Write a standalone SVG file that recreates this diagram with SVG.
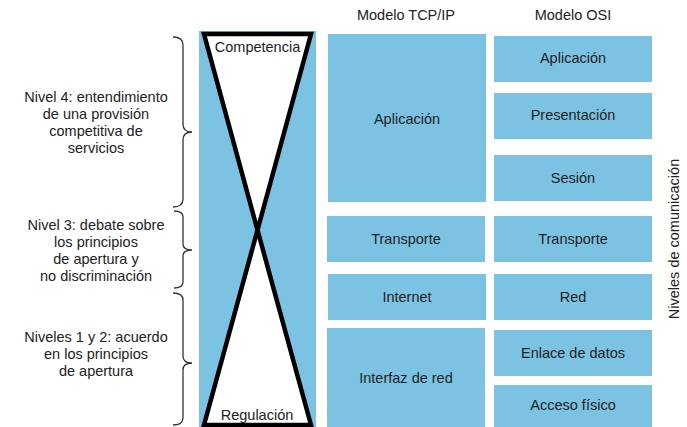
<svg xmlns="http://www.w3.org/2000/svg" width="687" height="427" viewBox="0 0 687 427">
<style>
text{font-family:"Liberation Sans",Arial,sans-serif;font-size:14.5px;fill:#222;text-anchor:middle}
.box{fill:#7cc2e2}
.brace{fill:none;stroke:#333;stroke-width:1.3}
.hg{fill:#fff;stroke:#000;stroke-width:4.5;stroke-linejoin:miter}
</style>
<rect width="687" height="427" fill="#fff"/>
<g id="headers">
<text x="406" y="20">Modelo TCP/IP</text>
<text x="573" y="20">Modelo OSI</text>
</g>
<g id="hourglass">
<rect class="box" x="199" y="31" width="117" height="396"/>
<polygon class="hg" points="204,34 311,34 257.5,230"/>
<polygon class="hg" points="257.5,230 204,425 311,425"/>
<text x="257.5" y="52">Competencia</text>
<text x="257" y="420">Regulación</text>
</g>
<g id="tcp-aplicacion"><rect class="box" x="328" y="34" width="158" height="168"/><text x="407" y="124">Aplicación</text></g>
<g id="tcp-transporte"><rect class="box" x="327" y="216" width="158" height="46"/><text x="406" y="244">Transporte</text></g>
<g id="tcp-internet"><rect class="box" x="328" y="274" width="158" height="46"/><text x="407" y="302">Internet</text></g>
<g id="tcp-interfaz"><rect class="box" x="327" y="328" width="158" height="99"/><text x="406" y="383">Interfaz de red</text></g>
<g id="osi-aplicacion"><rect class="box" x="494" y="36" width="158" height="46"/><text x="573" y="63">Aplicación</text></g>
<g id="osi-presentacion"><rect class="box" x="494" y="93" width="158" height="46"/><text x="573" y="120">Presentación</text></g>
<g id="osi-sesion"><rect class="box" x="494" y="155" width="158" height="46"/><text x="573" y="183">Sesión</text></g>
<g id="osi-transporte"><rect class="box" x="494" y="216" width="158" height="46"/><text x="573" y="244">Transporte</text></g>
<g id="osi-red"><rect class="box" x="494" y="274" width="158" height="46"/><text x="573" y="302">Red</text></g>
<g id="osi-enlace"><rect class="box" x="494" y="330" width="158" height="46"/><text x="573" y="358">Enlace de datos</text></g>
<g id="osi-acceso"><rect class="box" x="494" y="385" width="158" height="42"/><text x="573" y="410">Acceso físico</text></g>
<g id="niveles-label"><text transform="translate(679,239) rotate(-90)">Niveles de comunicación</text></g>
<g id="connectors">
<path class="brace" d="M173,37 Q183,37 183,45 L183,124 Q183,132 192,132 Q183,132 183,140 L183,199 Q183,207 173,207"/>
<path class="brace" d="M174,211 Q183,211 183,217 L183,244 Q183,250 192,250 Q183,250 183,256 L183,282 Q183,288 174,288"/>
<path class="brace" d="M173,293 Q183,293 183,300 L183,356 Q183,363 192,363 Q183,363 183,370 L183,418 Q183,425 173,425"/>
</g>
<g id="level4">
<text x="96" y="102">Nivel 4: entendimiento</text>
<text x="96" y="119">de una provisión</text>
<text x="96" y="136">competitiva de</text>
<text x="96" y="153">servicios</text>
</g>
<g id="level3">
<text x="96" y="230">Nivel 3: debate sobre</text>
<text x="96" y="247">los principios</text>
<text x="96" y="264">de apertura y</text>
<text x="96" y="281">no discriminación</text>
</g>
<g id="level12">
<text x="96" y="342">Niveles 1 y 2: acuerdo</text>
<text x="96" y="359">en los principios</text>
<text x="96" y="376">de apertura</text>
</g>
</svg>
